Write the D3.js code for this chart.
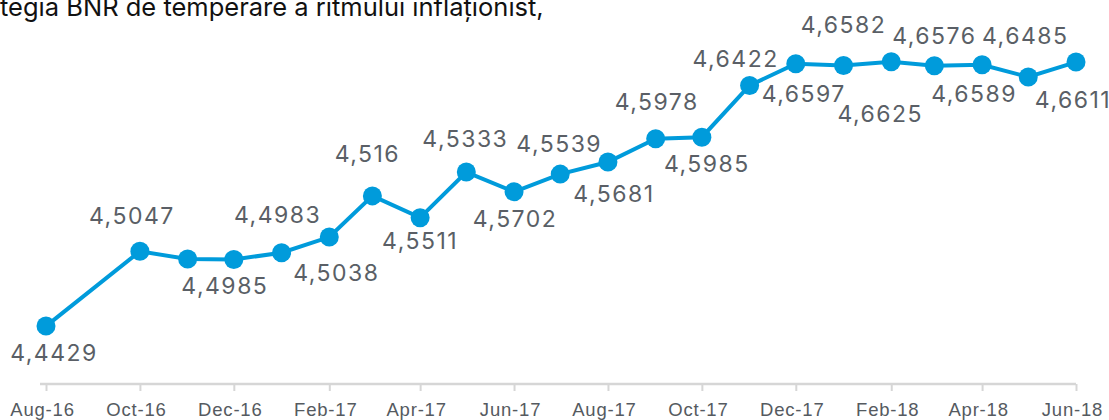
<!DOCTYPE html>
<html>
<head>
<meta charset="utf-8">
<script src="https://cdn.jsdelivr.net/npm/d3@7"></script>
<style>
  body { margin: 0; background: #fff; overflow: hidden; }
  svg { display: block; font-family: Inter, "Liberation Sans", sans-serif; }
</style>
</head>
<body>
<svg id="graph"></svg>
<script>
// monthly EUR/RON points (Sep-16 is missing in the source)
var months = ["2016-08", "2016-10", "2016-11", "2016-12", "2017-01", "2017-02", "2017-03",
  "2017-04", "2017-05", "2017-06", "2017-07", "2017-08", "2017-09", "2017-10", "2017-11",
  "2017-12", "2018-01", "2018-02", "2018-03", "2018-04", "2018-05", "2018-06"];
var rates = [4.4429, 4.5047, 4.4983, 4.4980, 4.5035, 4.5165, 4.5505, 4.5325, 4.5702, 4.5539,
  4.5685, 4.5785, 4.5978, 4.5990, 4.6418, 4.6597, 4.6582, 4.6614, 4.6580, 4.6589, 4.6488, 4.6611];
// data labels as printed in the source (Nov-16 has none)
var labels = ["4,4429", "4,5047", "", "4,4985", "4,4983", "4,5038", "4,516", "4,5511", "4,5333",
  "4,5702", "4,5539", "4,5681", "4,5978", "4,5985", "4,6422", "4,6597", "4,6582", "4,6625",
  "4,6576", "4,6589", "4,6485", "4,6611"];
var tickMonths = ["2016-08", "2016-10", "2016-12", "2017-02", "2017-04", "2017-06", "2017-08",
  "2017-10", "2017-12", "2018-02", "2018-04", "2018-06"];
var title = "tegia BNR de temperare a ritmului inflaționist,";

// label placement relative to its point [dx, dy of baseline]
var labelNudge = [[8, 35], [-8, -27], [0, 0], [-9, 35], [-4, -30], [7, 44], [-5, -34], [0, 31],
  [-1, -25], [1, 35], [-1, -22], [6, 40], [1, -29], [5, 35], [-14, -18], [8, 38], [0, -33],
  [-11, 60], [0, -22], [-8, 37], [-3, -33], [-3, 46]];

var W = 1109, H = 420;
var parse = d3.timeParse("%Y-%m");
var data = months.map(function(m, i) {
  return { date: parse(m), value: rates[i], label: labels[i], nudge: labelNudge[i] };
});

var svg = d3.select("#graph").attr("width", W).attr("height", H);

var x = d3.scaleTime()
  .domain([parse("2016-08"), parse("2018-06")])
  .range([46, 1076]);
var y = d3.scaleLinear()
  .domain([4.40, 4.70])
  .range([378, 15]);

svg.append("text")
  .attr("x", 0)
  .attr("y", 16)
  .attr("font-size", 25.5)
  .attr("fill", "#111")
  .text(title);

// x axis
var xAxis = svg.append("g")
  .attr("transform", "translate(0,384)")
  .call(d3.axisBottom(x)
    .tickValues(tickMonths.map(parse))
    .tickSize(7)
    .tickPadding(12)
    .tickFormat(d3.timeFormat("%b-%y")));
xAxis.select(".domain")
  .attr("d", "M40,0H" + x(parse("2018-06")))
  .attr("stroke", "#d6d6d6")
  .attr("stroke-width", 2.5);
xAxis.selectAll(".tick line").attr("stroke", "#d6d6d6").attr("stroke-width", 2);
xAxis.selectAll(".tick text")
  .attr("font-size", 18.5)
  .attr("fill", "#555a60")
  .attr("dx", -4)
  .style("letter-spacing", "0.8px");

var line = d3.line()
  .x(function(d) { return x(d.date); })
  .y(function(d) { return y(d.value); });

svg.append("path")
  .datum(data)
  .attr("fill", "none")
  .attr("stroke", "#009bdb")
  .attr("stroke-width", 4)
  .attr("d", line);

svg.selectAll(".dot")
  .data(data)
  .enter().append("circle")
    .attr("class", "dot")
    .attr("r", 9.5)
    .attr("fill", "#009bdb")
    .attr("cx", function(d) { return x(d.date); })
    .attr("cy", function(d) { return y(d.value); });

svg.selectAll(".lbl")
  .data(data.filter(function(d) { return d.label !== ""; }))
  .enter().append("text")
    .attr("class", "lbl")
    .attr("text-anchor", "middle")
    .attr("font-size", 23)
    .attr("fill", "#5a5f66")
    .style("letter-spacing", "1.5px")
    .attr("x", function(d) { return x(d.date) + d.nudge[0]; })
    .attr("y", function(d) { return y(d.value) + d.nudge[1]; })
    .text(function(d) { return d.label; });
</script>
</body>
</html>
